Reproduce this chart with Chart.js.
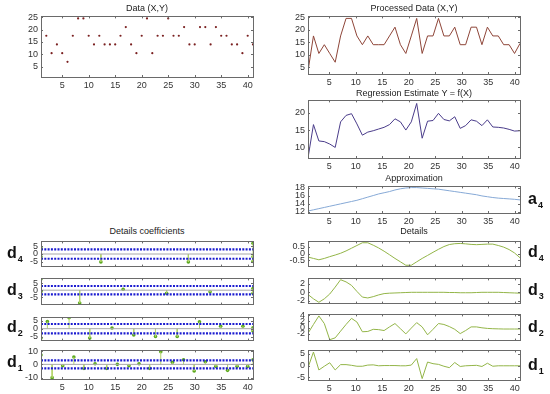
<!DOCTYPE html>
<html>
<head>
<meta charset="utf-8">
<script src="https://cdn.jsdelivr.net/npm/chart.js@4/dist/chart.umd.min.js"></script>
<style>
  body { margin:0; background:#fff; }
  #fig { position:relative; width:550px; height:394px; overflow:hidden; font-family:"Liberation Sans", Arial, sans-serif; }
  #fig canvas { position:absolute; }
  .ttl { position:absolute; font-size:9px; color:#222; text-align:center; white-space:nowrap; line-height:10px; }
  .lbl { position:absolute; font-weight:bold; color:#111; font-size:16px; line-height:16px; }
  .lbl sub { font-size:9px; position:relative; top:4px; vertical-align:baseline; margin-left:1px; }
</style>
</head>
<body>
<div id="fig"></div>
<script>
// raw data (X,Y)
var dataX = [1,2,3,4,5,6,7,8,9,10,11,12,13,14,15,16,17,18,19,20,21,22,23,24,25,26,27,28,29,30,31,32,33,34,35,36,37,38,39,40,41];
var dataY = [3.5,17.5,10.5,14,10.5,7,17.5,24.5,24.5,17.5,14,17.5,14,14,14,17.5,21,14,10.5,17.5,24.5,10.5,17.5,17.5,24.5,17.5,17.5,21,14,14,21,21,14,21,17.5,17.5,14,14,10.5,17.5,14];

// resampled grid used by the processed signal and its decomposition
var gridX = [1,2.03,3.05,4.08,5.1,6.13,7.15,8.18,9.21,10.23,11.26,12.28,13.31,14.33,15.36,16.38,17.41,18.44,19.46,20.49,21.51,22.54,23.56,24.59,25.62,26.64,27.67,28.69,29.72,30.74,31.77,32.79,33.82,34.85,35.87,36.9,37.92,38.95,39.97,41];
var processedY = [3.5,17.5,10.5,14,10.5,7,17.5,24.5,24.5,17.5,14,17.5,14,14,14,17.5,21,14,10.5,17.5,24.5,10.5,17.5,17.5,24.5,17.5,17.5,21,14,14,21,21,14,21,17.5,17.5,14,14,10.5,14.5];
var regressionY = [6.8,16.6,11.8,11.6,10.9,9.9,17.4,19.3,19.8,16.8,13.5,14.4,14.8,15.3,15.8,16.6,18.3,17.4,15,17.4,22.8,12.6,17.6,17.8,19.9,18.1,17.7,18.9,15.5,16.3,18,17.6,16.3,18,15.9,15.8,15.6,15.2,14.7,14.8];
var approxA4 = [12.2,12.5,12.8,13.1,13.4,13.7,14,14.3,14.6,14.9,15.3,15.7,16.1,16.5,16.8,17.1,17.5,17.8,18,18.1,18.1,18,17.9,17.8,17.7,17.5,17.3,17.1,16.9,16.7,16.5,16.3,16,15.8,15.6,15.45,15.35,15.25,15.15,15];
var detailD4 = [-0.25,-0.35,-0.45,-0.35,-0.22,-0.1,0.03,0.2,0.4,0.6,0.8,0.8,0.62,0.42,0.18,-0.08,-0.35,-0.6,-0.85,-0.85,-0.6,-0.35,-0.13,0.1,0.32,0.52,0.67,0.73,0.75,0.72,0.68,0.66,0.68,0.7,0.7,0.6,0.48,0.3,0.05,-0.3];
var detailD3 = [-0.5,-1.5,-2.3,-1.5,-0.4,1.2,2.9,2.4,1.6,0.2,-1.1,-1.3,-1,-0.6,-0.3,-0.2,-0.15,-0.1,-0.05,0,0,0,0,0,0,0,-0.05,-0.05,-0.1,-0.1,-0.1,-0.05,0,0,0,0,-0.05,-0.1,-0.15,-0.2];
var detailD2 = [-1.9,1,3.8,1.3,-4,-3.4,-1.2,1,3,1.8,-1.4,-1.3,-0.6,-0.7,-1,0.2,1.3,-0.4,-2.1,-0.2,1.6,0.2,-2.4,-0.6,1.3,1,0.3,-0.6,-2,-1,0.2,0.2,-0.1,-0.3,-0.4,-0.45,-0.5,-0.5,-0.5,-0.5];
var detailD1 = [-0.9,5.8,-1.9,-0.3,1.2,-1.9,0.4,0.4,0.1,-0.3,-0.3,0.2,0.3,-0.1,0,0,0,-0.1,-0.1,0.2,3,-5.6,1.5,0.8,0.5,-0.3,-0.9,1.3,-0.4,-0.1,0,0.1,-0.4,1,-0.3,-0.1,-0.1,-0.1,-0.1,-0.1];

// wavelet detail coefficients (position, value)
var coef4X = [1,1,12.3,28.8,41,41,41];
var coef4Y = [3.8,-1.7,-5,-5,6.8,-1.7,-4.7];
var coef3X = [1,1,8.3,16.5,24.7,32.9,41,41];
var coef3Y = [8,-1,-9.3,0.7,-2.3,-1.2,1.2,-2.3];
var coef2X = [1,2.2,6.3,10.2,14.4,18.5,22.6,26.7,30.9,34.9,39.1,41,41];
var coef2Y = [-6,4.6,7,-6,0.4,-4,-5,-5,4.4,1.6,1.6,0.6,-1.5];
var coef1X = [1,3.1,5.1,7.2,9.1,11.2,13.4,15.4,17.6,19.5,21.5,23.6,25.8,27.9,29.9,32,34,36.2,38,40,41];
var coef1Y = [7,-10,-1,5.5,-3,0.5,-3,0,-1,0.5,-3,9.5,1.5,3.5,-5,2,-1.5,-4.5,-1.5,-1.5,3.5];
var threshold = 3;

var xTicks = [5,10,15,20,25,30,35,40];

Chart.defaults.font.family = '"Liberation Sans", Arial, sans-serif';
Chart.defaults.font.size = 9;
Chart.defaults.color = '#333';
Chart.defaults.elements.point.radius = 0;
Chart.defaults.elements.line.borderWidth = 1;

var fig = document.getElementById('fig');

function pts(xs, ys) {
  return xs.map(function(x, i){ return {x: x, y: ys[i]}; });
}

// box + inward tick marks like matlab axes
var frame = {
  id: 'frame',
  afterDraw: function(chart) {
    var a = chart.chartArea, ctx = chart.ctx;
    ctx.save();
    ctx.strokeStyle = '#6a6a6a';
    ctx.lineWidth = 1;
    ctx.strokeRect(Math.round(a.left)+0.5, Math.round(a.top)+0.5, Math.round(a.right-a.left), Math.round(a.bottom-a.top));
    ctx.beginPath();
    chart.scales.x.ticks.forEach(function(t){
      var px = Math.round(chart.scales.x.getPixelForValue(t.value))+0.5;
      ctx.moveTo(px, a.bottom); ctx.lineTo(px, a.bottom-2);
      ctx.moveTo(px, a.top); ctx.lineTo(px, a.top+2);
    });
    chart.scales.y.ticks.forEach(function(t){
      var py = Math.round(chart.scales.y.getPixelForValue(t.value))+0.5;
      ctx.moveTo(a.left, py); ctx.lineTo(a.left+2, py);
      ctx.moveTo(a.right, py); ctx.lineTo(a.right-2, py);
    });
    ctx.stroke();
    ctx.restore();
  }
};

function panel(box, cfg) {
  var yW = 40, padT = 8, padR = 10;
  var xH = cfg.xLabels ? 13 : 0, padB = cfg.xLabels ? 3 : 8;
  var w = box.r - box.l + yW + padR, h = box.b - box.t + padT + xH + padB;
  var c = document.createElement('canvas');
  c.width = w; c.height = h;
  c.style.left = (box.l - yW) + 'px';
  c.style.top = (box.t - padT) + 'px';
  c.style.width = w + 'px'; c.style.height = h + 'px';
  fig.appendChild(c);
  new Chart(c, {
    type: 'line',
    data: { datasets: cfg.datasets },
    options: {
      responsive: false,
      animation: false,
      layout: { padding: { top: padT, right: padR, bottom: padB, left: 0 } },
      plugins: { legend: { display: false }, tooltip: { enabled: false } },
      scales: {
        x: {
          type: 'linear', min: 1, max: 41,
          grid: { display: false, drawTicks: false }, border: { display: false },
          afterBuildTicks: function(s){ s.ticks = xTicks.map(function(v){ return {value: v}; }); },
          afterFit: function(s){ s.height = xH; },
          ticks: { display: !!cfg.xLabels, autoSkip: false, maxRotation: 0, padding: 3 }
        },
        y: {
          min: cfg.yMin, max: cfg.yMax,
          grid: { display: false, drawTicks: false }, border: { display: false },
          afterBuildTicks: function(s){ s.ticks = cfg.yTicks.map(function(v){ return {value: v}; }); },
          afterFit: function(s){ s.width = yW; },
          ticks: { autoSkip: false, padding: 3 }
        }
      }
    },
    plugins: [frame]
  });
}

function title(text, cx, cy) {
  var d = document.createElement('div');
  d.className = 'ttl';
  d.textContent = text;
  d.style.left = (cx - 100) + 'px';
  d.style.width = '200px';
  d.style.top = (cy - 5) + 'px';
  fig.appendChild(d);
}

function label(ch, sub, x, y) {
  var d = document.createElement('div');
  d.className = 'lbl';
  d.innerHTML = ch + '<sub>' + sub + '</sub>';
  d.style.left = x + 'px';
  d.style.top = (y - 9) + 'px';
  fig.appendChild(d);
}

function lineSet(xs, ys, color) {
  return { data: pts(xs, ys), borderColor: color, borderWidth: 1, pointRadius: 0, fill: false };
}

// stems from zero, markers on top, threshold lines
function coefSets(xs, ys) {
  var stem = [];
  xs.forEach(function(x, i){ stem.push({x: x, y: 0}, {x: x, y: ys[i]}, {x: x, y: null}); });
  return [
    { data: [{x:1,y:0},{x:41,y:0}], borderColor: '#a8a8a8', borderWidth: 1, pointRadius: 0 },
    { data: [{x:1,y:threshold},{x:41,y:threshold}], borderColor: '#1c1cd0', borderWidth: 2.2, borderDash: [2,1.3], pointRadius: 0 },
    { data: [{x:1,y:-threshold},{x:41,y:-threshold}], borderColor: '#1c1cd0', borderWidth: 2.2, borderDash: [2,1.3], pointRadius: 0 },
    { data: stem, borderColor: '#b4d46a', borderWidth: 1, pointRadius: 0, spanGaps: false },
    { data: pts(xs, ys), showLine: false, pointRadius: 1.8, pointBackgroundColor: '#5aa81e', pointBorderWidth: 0 }
  ];
}

var L = { l: 41, r: 253 };
var R = { l: 308, r: 520 };

// left column
panel({l:L.l, r:L.r, t:16, b:77}, {
  xLabels: true, yMin: 0.9, yMax: 25.3, yTicks: [5,10,15,20,25],
  datasets: [{ data: pts(dataX, dataY), showLine: false, pointRadius: 1.1, pointBackgroundColor: '#7a2020', pointBorderWidth: 0 }]
});
title('Data (X,Y)', 147, 8);

title('Details coefficients', 147, 231);
panel({l:L.l, r:L.r, t:241, b:267}, { yMin: -8, yMax: 8, yTicks: [5,0,-5], datasets: coefSets(coef4X, coef4Y) });
panel({l:L.l, r:L.r, t:278, b:305}, { yMin: -10.4, yMax: 8.5, yTicks: [5,0,-5], datasets: coefSets(coef3X, coef3Y) });
panel({l:L.l, r:L.r, t:317, b:341}, { yMin: -7.6, yMax: 7.2, yTicks: [5,0,-5], datasets: coefSets(coef2X, coef2Y) });
panel({l:L.l, r:L.r, t:350, b:379}, { xLabels: true, yMin: -11, yMax: 10.5, yTicks: [10,0,-10], datasets: coefSets(coef1X, coef1Y) });
label('d', 4, 7, 254);
label('d', 3, 7, 291);
label('d', 2, 7, 328);
label('d', 1, 7, 363);

// right column
panel({l:R.l, r:R.r, t:16, b:74}, {
  xLabels: true, yMin: 2.3, yMax: 25.3, yTicks: [5,10,15,20,25],
  datasets: [lineSet(gridX, processedY, '#8e4538')]
});
title('Processed Data (X,Y)', 414, 8);

panel({l:R.l, r:R.r, t:100, b:158}, {
  xLabels: true, yMin: 6.8, yMax: 23.7, yTicks: [10,15,20],
  datasets: [lineSet(gridX, regressionY, '#4a3c8a')]
});
title('Regression Estimate Y = f(X)', 414, 93);

panel({l:R.l, r:R.r, t:186, b:213}, {
  xLabels: true, yMin: 11.7, yMax: 18.4, yTicks: [12,14,16,18],
  datasets: [lineSet(gridX, approxA4, '#86a9d6')]
});
title('Approximation', 414, 178);
label('a', 4, 528, 200);

title('Details', 414, 231);
panel({l:R.l, r:R.r, t:241, b:267}, { yMin: -0.95, yMax: 0.9, yTicks: [0.5,0,-0.5], datasets: [lineSet(gridX, detailD4, '#93b548')] });
panel({l:R.l, r:R.r, t:278, b:304}, { yMin: -2.6, yMax: 3.2, yTicks: [2,0,-2], datasets: [lineSet(gridX, detailD3, '#93b548')] });
panel({l:R.l, r:R.r, t:314, b:341}, { yMin: -4.3, yMax: 4.3, yTicks: [4,2,0,-2], datasets: [lineSet(gridX, detailD2, '#93b548')] });
panel({l:R.l, r:R.r, t:350, b:380}, { xLabels: true, yMin: -6.2, yMax: 6.5, yTicks: [5,0,-5], datasets: [lineSet(gridX, detailD1, '#93b548')] });
label('d', 4, 528, 253);
label('d', 3, 528, 291);
label('d', 2, 528, 328);
label('d', 1, 528, 366);
</script>
</body>
</html>
